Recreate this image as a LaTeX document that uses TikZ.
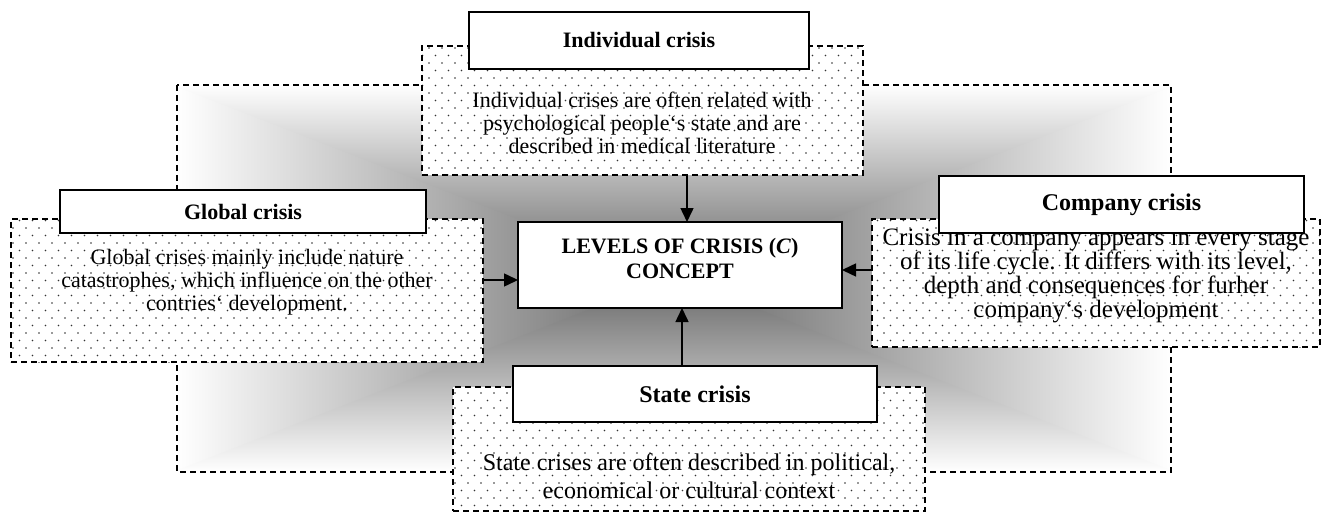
\documentclass[tikz,border=0pt]{standalone}
\usepackage{fontspec}
\setmainfont{Liberation Serif}
\usetikzlibrary{arrows.meta,patterns}

\pgfdeclarepatternformonly{sparsedots}{\pgfqpoint{-1pt}{-1pt}}{\pgfqpoint{12pt}{14pt}}{\pgfqpoint{13pt}{15pt}}{
  \pgfpathcircle{\pgfqpoint{0pt}{0pt}}{0.85pt}
  \pgfpathcircle{\pgfqpoint{6.5pt}{7.5pt}}{0.85pt}
  \pgfusepath{fill}
}

\begin{document}
\begin{tikzpicture}[x=1pt,y=-1pt,
                    every node/.style={inner sep=0pt, outer sep=0pt},
                    levelhead/.style={draw, line width=1.8pt, fill=white,
                                      font=\fontsize{22}{24}\selectfont\bfseries},
                    levelbox/.style={draw, line width=1.5pt,
                                     dash pattern=on 6pt off 4pt,
                                     preaction={fill=white},
                                     pattern=sparsedots,
                                     pattern color=black!80},
                    leveltext/.style={align=center,
                                      font=\fontsize{22}{23}\selectfont},
                    levelarrow/.style={-{Triangle[length=14pt,width=13pt]},
                                       line width=1.5pt}
                   ]
  \useasboundingbox (0,0) rectangle (1324,513);

  % shaded frame behind everything
  \coordinate (bgNW) at (177,85);
  \coordinate (bgNE) at (1171,85);
  \coordinate (bgSW) at (177,472);
  \coordinate (bgSE) at (1171,472);
  \coordinate (bgMid) at (674,278);
  \begin{scope}
    \clip (bgNW) rectangle (bgSE);
    \begin{scope}
      \clip (bgMid) -- (bgNW) -- (bgSW) -- cycle;
      \shade[left color=white, right color=black!60] (bgNW) rectangle (bgMid |- bgSW);
    \end{scope}
    \begin{scope}
      \clip (bgMid) -- (bgNE) -- (bgSE) -- cycle;
      \shade[left color=black!60, right color=white] (bgMid |- bgNE) rectangle (bgSE);
    \end{scope}
    \begin{scope}
      \clip (670,278) -- (173,85) -- (1175,85) -- (678,278) -- cycle;
      \shade[top color=white, bottom color=black!60] (173,85) rectangle (1175,278);
    \end{scope}
    \begin{scope}
      \clip (670,278) -- (173,472) -- (1175,472) -- (678,278) -- cycle;
      \shade[top color=black!60, bottom color=white] (173,278) rectangle (1175,472);
    \end{scope}
  \end{scope}
  \draw[line width=1.5pt, dash pattern=on 6pt off 4pt] (bgNW) rectangle (bgSE);

  % dotted boxes
  \node[levelbox, minimum width=441pt, minimum height=129pt] (individualBox) at (642.5,110.5) {};
  \node[levelbox, minimum width=472pt, minimum height=143pt] (globalBox) at (247,290.5) {};
  \node[levelbox, minimum width=448pt, minimum height=128pt] (companyBox) at (1096,283) {};
  \node[levelbox, minimum width=472pt, minimum height=124pt] (stateBox) at (689,449) {};

  \node[leveltext] (individualText) at (642,123)
    {Individual crises are often related with\\
     psychological people‘s state and are\\
     described in medical literature};
  \node[leveltext] (globalText) at (247,282)
    {Global crises mainly include nature\\
     catastrophes, which influence on the other\\
     contries‘ development.};
  \node[leveltext, font=\fontsize{25}{22.5}\selectfont] (companyText) at (1096,276)
    {Crisis in a company appears in every stage\\
     of its life cycle. It differs with its level,\\
     depth and consequences for furher\\
     company‘s development};
  \node[leveltext, font=\fontsize{24}{28}\selectfont] (stateText) at (689,476)
    {State crises are often described in political,\\
     economical or cultural context};

  % headers
  \node[levelhead, minimum width=340pt, minimum height=57pt] (individualHead) at (639,40.5) {Individual crisis};
  \node[levelhead, minimum width=366pt, minimum height=43pt] (globalHead) at (243,211.5) {Global crisis};
  \node[levelhead, minimum width=365pt, minimum height=57pt,
        font=\fontsize{24}{26}\selectfont\bfseries] (companyHead) at (1121.5,204.5) {Company crisis};
  \node[levelhead, minimum width=364pt, minimum height=56pt,
        font=\fontsize{24}{26}\selectfont\bfseries] (stateHead) at (695,394) {State crisis};

  % centre
  \node[levelhead, minimum width=324pt, minimum height=86pt] (centerBox) at (680,265) {};
  \node[align=center, font=\fontsize{22}{25}\selectfont\bfseries] (centerText) at (680,258)
    {LEVELS OF CRISIS (\textit{C})\\ CONCEPT};

  % arrows into the centre
  \coordinate (individualIn) at (687,0);
  \coordinate (stateIn) at (682,0);
  \coordinate (globalIn) at (0,280);
  \coordinate (companyIn) at (0,270);
  \draw[levelarrow] (individualBox.south -| individualIn) -- (centerBox.north -| individualIn);
  \draw[levelarrow] (stateHead.north -| stateIn) -- (centerBox.south -| stateIn);
  \draw[levelarrow] (globalBox.east |- globalIn) -- (centerBox.west |- globalIn);
  \draw[levelarrow] (companyBox.west |- companyIn) -- (centerBox.east |- companyIn);
\end{tikzpicture}
\end{document}
